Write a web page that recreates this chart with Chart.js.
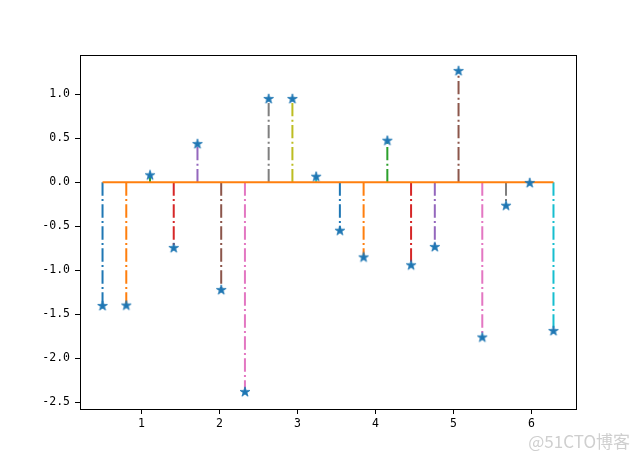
<!DOCTYPE html>
<html>
<head>
<meta charset="utf-8">
<script src="https://cdn.jsdelivr.net/npm/chart.js@4.4.0/dist/chart.umd.min.js"></script>
<style>
  html, body { margin: 0; padding: 0; background: #fff; }
  #wrap { width: 640px; height: 459px; position: relative; }
</style>
</head>
<body>
<div id="wrap"><canvas id="stem"></canvas></div>
<script>
// stem positions (linspace 0.5 .. 2*pi, 20 points) and values
const xs = [0.5, 0.8044, 1.1088, 1.4131, 1.7175, 2.0219, 2.3263, 2.6306, 2.935, 3.2394,
            3.5438, 3.8482, 4.1525, 4.4569, 4.7613, 5.0657, 5.3701, 5.6744, 5.9788, 6.2832];
const ys = [-1.405, -1.40, 0.08, -0.747, 0.435, -1.224, -2.383, 0.947, 0.947, 0.064,
            -0.55, -0.853, 0.473, -0.943, -0.735, 1.265, -1.763, -0.266, -0.008, -1.69];
const xTicks = [1, 2, 3, 4, 5, 6];
const yTicks = [-2.5, -2.0, -1.5, -1.0, -0.5, 0.0, 0.5, 1.0];
const yTickLabels = ["-2.5", "-2.0", "-1.5", "-1.0", "-0.5", "0.0", "0.5", "1.0"];

const tab10 = ["#1f77b4", "#ff7f0e", "#2ca02c", "#d62728", "#9467bd",
               "#8c564b", "#e377c2", "#7f7f7f", "#bcbd22", "#17becf"];

// filled star marker
function starImg(color) {
  const c = document.createElement("canvas");
  c.width = 12; c.height = 12;
  const g = c.getContext("2d");
  const R = 5.2, r = R * 0.382;
  g.beginPath();
  for (let k = 0; k < 10; k++) {
    const rad = k % 2 ? r : R;
    const a = -Math.PI / 2 + k * Math.PI / 5;
    const px = 6 + rad * Math.cos(a), py = 6 + rad * Math.sin(a);
    k ? g.lineTo(px, py) : g.moveTo(px, py);
  }
  g.closePath();
  g.fillStyle = color;
  g.fill();
  g.lineWidth = 0.8;
  g.strokeStyle = color;
  g.stroke();
  return c;
}
const star = starImg("#1f77b4");

const datasets = [];
xs.forEach((x, i) => {
  datasets.push({
    type: "line",
    data: [{x: x, y: 0}, {x: x, y: ys[i]}],
    borderColor: tab10[i % 10],
    borderWidth: 2,
    borderDash: [13.3, 3.3, 2.1, 3.3],
    borderCapStyle: "butt",
    pointRadius: 0,
    order: 3
  });
});
datasets.push({
  type: "line",
  data: [{x: xs[0], y: 0}, {x: xs[xs.length - 1], y: 0}],
  borderColor: "#ff7f0e",
  borderWidth: 2,
  pointRadius: 0,
  order: 2
});
datasets.push({
  type: "scatter",
  data: xs.map((x, i) => ({x: x, y: ys[i]})),
  pointStyle: star,
  pointRadius: 5,
  showLine: false,
  order: 1
});

const frame = {
  id: "frame",
  afterDraw(chart) {
    const a = chart.chartArea, g = chart.ctx;
    g.save();
    g.strokeStyle = "#000";
    g.lineWidth = 1;
    g.strokeRect(Math.round(a.left) + 0.5, Math.round(a.top) + 0.5,
                 Math.round(a.right - a.left), Math.round(a.bottom - a.top));
    g.font = "17px 'Noto Sans CJK SC'";
    g.fillStyle = "#cfcfcf";
    g.textAlign = "right";
    g.textBaseline = "alphabetic";
    g.fillText("@51CTO博客", 630, 448);
    g.restore();
  }
};

const tickFont = {family: "'DejaVu Sans Mono', monospace", size: 11.5};

new Chart(document.getElementById("stem"), {
  data: {datasets: datasets},
  plugins: [frame],
  options: {
    responsive: true,
    maintainAspectRatio: false,
    animation: false,
    layout: {padding: {top: 55, right: 64, left: 0, bottom: 0}},
    plugins: {legend: {display: false}, tooltip: {enabled: false}},
    scales: {
      x: {
        type: "linear",
        min: 0.211,
        max: 6.572,
        afterBuildTicks: s => { s.ticks = xTicks.map(v => ({value: v})); },
        afterFit: s => { s.height = 50; },
        grid: {drawOnChartArea: false, drawTicks: true, tickLength: 5, tickColor: "#000"},
        border: {display: false},
        ticks: {color: "#000", font: tickFont, padding: 3, maxRotation: 0,
                callback: v => String(v)}
      },
      y: {
        type: "linear",
        min: -2.576,
        max: 1.447,
        afterBuildTicks: s => { s.ticks = yTicks.map(v => ({value: v})); },
        afterFit: s => { s.width = 80; },
        grid: {drawOnChartArea: false, drawTicks: true, tickLength: 5, tickColor: "#000"},
        border: {display: false},
        ticks: {color: "#000", font: tickFont, padding: 5,
                callback: v => yTickLabels[yTicks.indexOf(v)]}
      }
    }
  }
});
</script>
</body>
</html>
